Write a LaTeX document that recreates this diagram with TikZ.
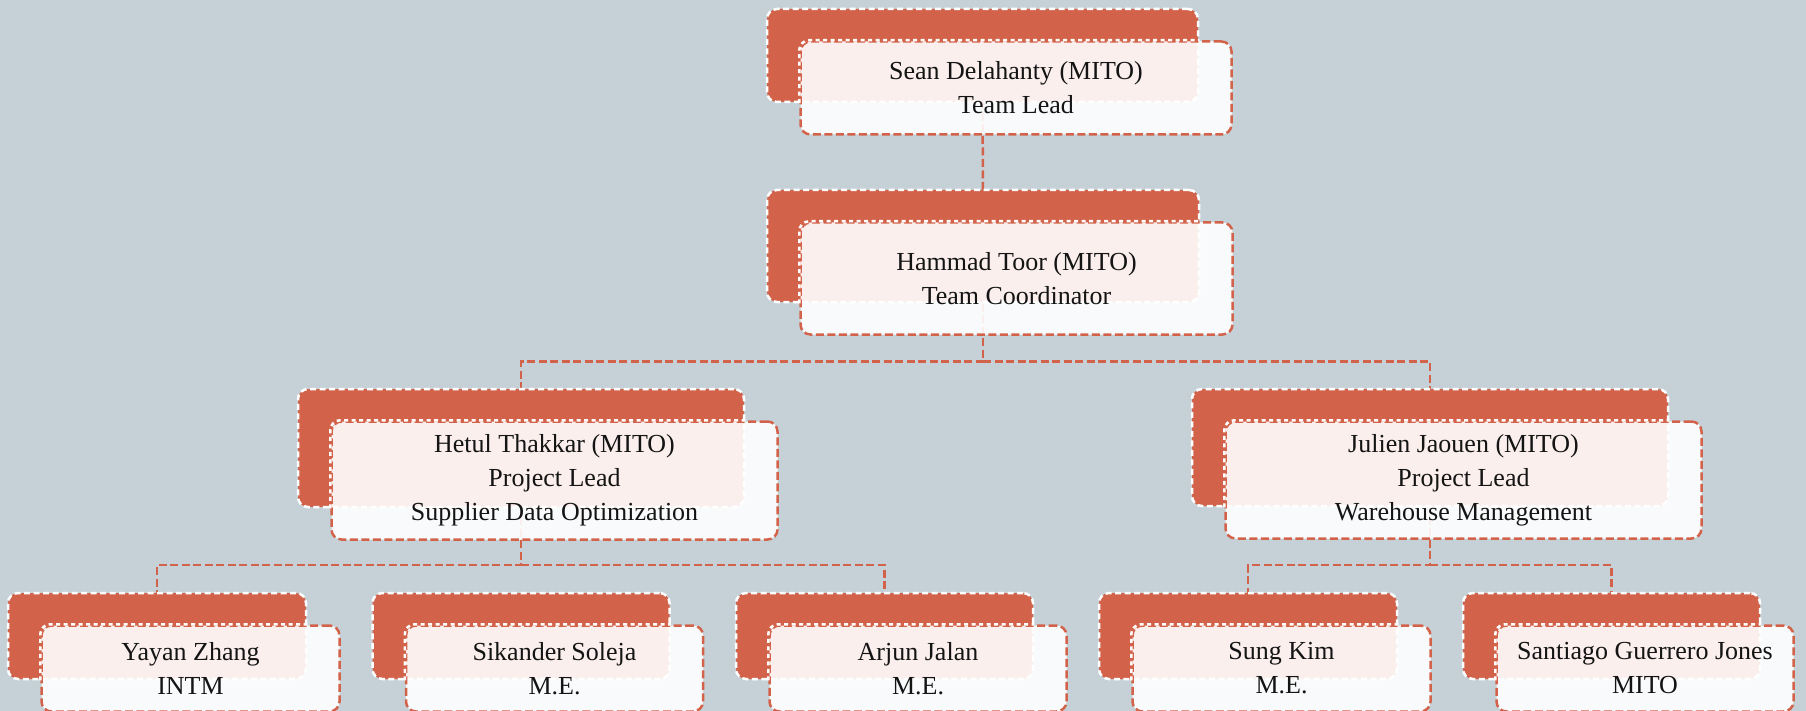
\documentclass[tikz,border=0pt]{standalone}
\usepackage{fontspec}
\setmainfont{Liberation Serif}
\usetikzlibrary{calc}
\definecolor{bgc}{RGB}{197,209,215}
\definecolor{orng}{RGB}{210,99,74}
\definecolor{txt}{RGB}{20,20,20}
\pgfdeclarelayer{bg}
\pgfsetlayers{bg,main}
\newcommand\orgperson[6]{%
  \node[backbox, minimum width=#4, minimum height=#5] (#1) at (#2,#3) {};
  \node[frontbox, minimum width=#4, minimum height=#5] (#1f) at ($(#1)+(33.5,32.5)$) {#6};
  \begin{scope}
    \clip[rounded corners=10pt] (#1.south west) rectangle (#1.north east);
    \draw[white, line width=2.5pt, dash pattern=on 4pt off 3.5pt, rounded corners=10pt] (#1f.south west) rectangle (#1f.north east);
  \end{scope}}
\begin{document}
\begin{tikzpicture}[x=1pt,y=-1pt,
  backbox/.style={rectangle, rounded corners=10pt, fill=orng, draw=white, line width=2.5pt, dash pattern=on 6pt off 3.5pt, inner sep=0pt},
  frontbox/.style={rectangle, rounded corners=10pt, fill=white, fill opacity=0.9, text opacity=1, draw=orng, line width=2.5pt, dash pattern=on 8pt off 3.5pt, inner sep=0pt, align=center, font=\fontsize{26}{34}\selectfont, text=txt},
  link/.style={draw=orng, line width=2.5pt, dash pattern=on 8pt off 3.5pt}]
\useasboundingbox (0,0) rectangle (1806,711);

\orgperson{sean}{982.5}{55.5}{431}{93}{Sean Delahanty (MITO)\\Team Lead}
\orgperson{hammad}{983}{246}{432}{112}{Hammad Toor (MITO)\\Team Coordinator}
\orgperson{hetul}{521}{448}{446}{118}{Hetul Thakkar (MITO)\\Project Lead\\Supplier Data Optimization}
\orgperson{julien}{1430}{447.5}{476}{117}{Julien Jaouen (MITO)\\Project Lead\\Warehouse Management}
\orgperson{yayan}{157}{636}{298}{86}{Yayan Zhang\\INTM}
\orgperson{sikander}{521}{636}{297}{86}{Sikander Soleja\\M.E.}
\orgperson{arjun}{884.5}{636}{297}{86}{Arjun Jalan\\M.E.}
\orgperson{sung}{1248}{636}{298}{86}{Sung Kim\\M.E.}
\orgperson{santiago}{1611.5}{636}{297}{86}{Santiago Guerrero Jones\\MITO}

\coordinate (busA) at (0,361.5);
\coordinate (busB) at (0,565);

\begin{pgfonlayer}{bg}
\fill[bgc] (0,0) rectangle (1806,711);
\draw[link] (sean.center) -- (hammad.center);
\draw[link] (hammad.center) -- (hammad.center |- busA) -| (hetul.center);
\draw[link] (hammad.center |- busA) -| (julien.center);
\draw[link] (hetul.center) -- (hetul.center |- busB) -| (yayan.center);
\draw[link] (hetul.center |- busB) -| (arjun.center);
\draw[link] (julien.center) -- (julien.center |- busB) -| (sung.center);
\draw[link] (julien.center |- busB) -| (santiago.center);
\end{pgfonlayer}
\end{tikzpicture}
\end{document}
